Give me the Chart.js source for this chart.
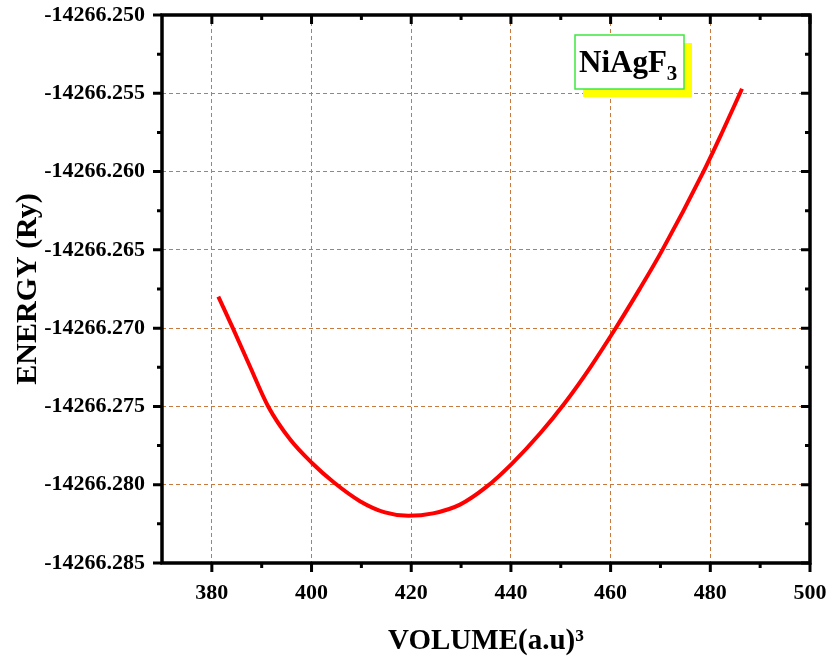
<!DOCTYPE html>
<html>
<head>
<meta charset="utf-8">
<script src="https://cdn.jsdelivr.net/npm/chart.js@4/dist/chart.umd.min.js"></script>
<style>
  html, body { margin: 0; padding: 0; background: #fff; }
</style>
</head>
<body>
<canvas id="grafEnergia" width="831" height="668"></canvas>
<script>
// datos
const volumen = [381.30, 384.24, 387.65, 391.33, 395.68, 400.09, 404.51, 409.72, 414.74, 419.41,
                 424.37, 429.78, 435.20, 440.22, 445.83, 450.85, 455.86, 460.88, 465.90, 470.31,
                 478.53, 482.34, 486.36];
const energia = [-14266.26799, -14266.27001, -14266.27245, -14266.27502, -14266.27710, -14266.27861,
                 -14266.27986, -14266.28105, -14266.28177, -14266.28199, -14266.28183, -14266.28127,
                 -14266.28011, -14266.27865, -14266.27673, -14266.27476, -14266.27253, -14266.27007,
                 -14266.26746, -14266.26505, -14266.26007, -14266.25752, -14266.25471];
const ticksX = [380, 400, 420, 440, 460, 480, 500];
const ticksY = [-14266.285, -14266.280, -14266.275, -14266.270, -14266.265, -14266.260, -14266.255, -14266.250];
const menoresX = [390, 410, 430, 450, 470, 490];
const menoresY = [-14266.2825, -14266.2775, -14266.2725, -14266.2675, -14266.2625, -14266.2575, -14266.2525];
const etiqueta = 'NiAgF';
const subindice = '3';

const fuente = "'Liberation Serif', 'Times New Roman', serif";
const colorGrilla = '#c8793e';

// marco, ticks mayores/menores y cuadro del compuesto
const marcoPlugin = {
  id: 'marco',
  afterDraw(chart) {
    const ctx = chart.ctx;
    const a = chart.chartArea;
    const sx = chart.scales.x;
    const sy = chart.scales.y;
    ctx.save();
    ctx.strokeStyle = '#000';
    ctx.lineWidth = 3;
    ctx.lineCap = 'butt';
    ctx.beginPath();
    ticksX.forEach(v => {
      const px = sx.getPixelForValue(v);
      ctx.moveTo(px, a.bottom); ctx.lineTo(px, a.bottom + 9);
      ctx.moveTo(px, a.top); ctx.lineTo(px, a.top + 9);
    });
    menoresX.forEach(v => {
      const px = sx.getPixelForValue(v);
      ctx.moveTo(px, a.bottom); ctx.lineTo(px, a.bottom + 5);
      ctx.moveTo(px, a.top); ctx.lineTo(px, a.top + 5);
    });
    ticksY.forEach(v => {
      const py = sy.getPixelForValue(v);
      ctx.moveTo(a.left, py); ctx.lineTo(a.left - 9, py);
      ctx.moveTo(a.right, py); ctx.lineTo(a.right - 9, py);
    });
    menoresY.forEach(v => {
      const py = sy.getPixelForValue(v);
      ctx.moveTo(a.left, py); ctx.lineTo(a.left - 5, py);
      ctx.moveTo(a.right, py); ctx.lineTo(a.right - 5, py);
    });
    ctx.stroke();

    ctx.lineWidth = 3.5;
    ctx.lineJoin = 'miter';
    ctx.strokeRect(a.left, a.top, a.right - a.left, a.bottom - a.top);

    // cuadro NiAgF3
    const bx = a.left + 413, by = a.top + 20, bw = 109, bh = 54;
    ctx.fillStyle = '#ffff00';
    ctx.fillRect(bx + 8, by + 8, bw, bh);
    ctx.fillStyle = '#fff';
    ctx.fillRect(bx, by, bw, bh);
    ctx.strokeStyle = '#3ee83e';
    ctx.lineWidth = 1.5;
    ctx.strokeRect(bx, by, bw, bh);
    ctx.fillStyle = '#000';
    ctx.textBaseline = 'alphabetic';
    ctx.textAlign = 'left';
    ctx.font = 'bold 31px ' + fuente;
    ctx.fillText(etiqueta, bx + 4, by + 37);
    const w = ctx.measureText(etiqueta).width;
    ctx.font = 'bold 21px ' + fuente;
    ctx.fillText(subindice, bx + 4 + w, by + 45);
    ctx.restore();
  }
};

const ctx = document.querySelector('#grafEnergia');
const myChart = new Chart(ctx, {
  type: 'line',
  data: {
    labels: volumen,
    datasets: [{
      data: volumen.map((v, i) => ({ x: v, y: energia[i] })),
      borderColor: '#ff0000',
      borderWidth: 4,
      pointRadius: 0,
      fill: false,
      cubicInterpolationMode: 'monotone'
    }]
  },
  options: {
    responsive: false,
    animation: false,
    devicePixelRatio: 1,
    layout: { padding: { left: 0, top: 15, right: 21, bottom: 0 } },
    plugins: {
      legend: { display: false },
      tooltip: { enabled: false }
    },
    scales: {
      x: {
        type: 'linear',
        min: 370,
        max: 500,
        afterBuildTicks: s => { s.ticks = ticksX.map(v => ({ value: v })); },
        afterFit: s => { s.height = 105; s.paddingLeft = 0; s.paddingRight = 0; },
        grid: { color: colorGrilla, lineWidth: 1, drawTicks: false },
        border: { display: false, dash: [4, 3] },
        ticks: {
          padding: 17,
          color: '#000',
          font: { family: fuente, size: 22, weight: 'bold' },
          callback: v => String(v)
        },
        title: {
          display: true,
          text: 'VOLUME(a.u)³',
          color: '#000',
          font: { family: fuente, size: 29, weight: 'bold' },
          padding: { top: 0, bottom: 9 }
        }
      },
      y: {
        min: -14266.285,
        max: -14266.250,
        afterBuildTicks: s => { s.ticks = ticksY.map(v => ({ value: v })); },
        afterFit: s => { s.width = 162; s.paddingTop = 0; s.paddingBottom = 0; },
        grid: { color: colorGrilla, lineWidth: 1, drawTicks: false },
        border: { display: false, dash: [4, 3] },
        ticks: {
          padding: 17,
          color: '#000',
          font: { family: fuente, size: 22, weight: 'bold' },
          callback: v => v.toFixed(3)
        },
        title: {
          display: true,
          text: 'ENERGY (Ry)',
          color: '#000',
          font: { family: fuente, size: 30, weight: 'bold' },
          padding: { top: 10, bottom: 0 }
        }
      }
    }
  },
  plugins: [marcoPlugin]
});
</script>
</body>
</html>
